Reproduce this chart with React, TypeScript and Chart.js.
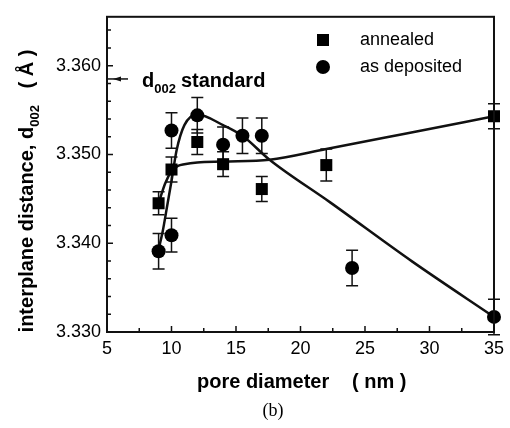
import React, { useEffect, useRef } from "react";
import { Chart, registerables } from "chart.js";

Chart.register(...registerables);

// Measured interplane spacing vs. pore diameter
const annealedX = [9, 10, 12, 14, 17, 22, 35];
const annealedY = [3.3445, 3.3483, 3.3514, 3.3489, 3.3461, 3.3488, 3.3543];
const annealedErr = [0.0013, 0.0014, 0.0014, 0.0014, 0.0014, 0.0018, 0.0014];

const depositedX = [9, 10, 10, 12, 14, 15.5, 17, 24, 35];
const depositedY = [3.3391, 3.3409, 3.3527, 3.3544, 3.3511, 3.3521, 3.3521, 3.3372, 3.3317];
const depositedErr = [0.002, 0.0019, 0.002, 0.002, 0.002, 0.002, 0.002, 0.002, 0.002];

// Guide-to-the-eye curves through each series
const annealedFitX = [9, 9.5, 10, 10.5, 11, 12, 14, 17.6, 22, 28, 35];
const annealedFitY = [3.3445, 3.3467, 3.3481, 3.3487, 3.3489, 3.3491, 3.3492, 3.3494, 3.3506, 3.3523, 3.3543];
const depositedFitX = [9, 9.3, 9.7, 10, 10.4, 11, 12, 14, 15.5, 17.6, 22.3, 28.7, 35];
const depositedFitY = [3.3393, 3.3412, 3.3445, 3.347, 3.3505, 3.3533, 3.3545, 3.3533, 3.3521, 3.3494, 3.3446, 3.3379, 3.3317];

const xTicks = [5, 10, 15, 20, 25, 30, 35];
const yTicks = [3.33, 3.34, 3.35, 3.36];
const standardD002 = 3.3585;

const SANS = "'Liberation Sans', Arial, sans-serif";

const toPoints = (xs: number[], ys: number[]) => xs.map((x, i) => ({ x, y: ys[i] }));

const errorBarPlugin = {
  id: "errorBars",
  beforeDatasetsDraw(chart: any) {
    const { ctx, scales } = chart;
    const xs = scales.x;
    const ys = scales.y;
    const sets = [
      { xs: annealedX, ys: annealedY, es: annealedErr },
      { xs: depositedX, ys: depositedY, es: depositedErr },
    ];
    ctx.save();
    ctx.strokeStyle = "#111";
    ctx.lineWidth = 1.5;
    sets.forEach((s) => {
      s.xs.forEach((xv, i) => {
        const px = xs.getPixelForValue(xv);
        const top = ys.getPixelForValue(s.ys[i] + s.es[i]);
        const bot = ys.getPixelForValue(s.ys[i] - s.es[i]);
        ctx.beginPath();
        ctx.moveTo(px, top);
        ctx.lineTo(px, bot);
        ctx.moveTo(px - 6, top);
        ctx.lineTo(px + 6, top);
        ctx.moveTo(px - 6, bot);
        ctx.lineTo(px + 6, bot);
        ctx.stroke();
      });
    });
    ctx.restore();
  },
};

const decorPlugin = {
  id: "decor",
  afterDraw(chart: any) {
    const { ctx, chartArea, scales } = chart;
    const { left, right, top, bottom } = chartArea;
    const xs = scales.x;
    const ys = scales.y;
    ctx.save();

    // frame
    ctx.strokeStyle = "#111";
    ctx.lineWidth = 2;
    ctx.strokeRect(left, top, right - left, bottom - top);

    // inward ticks
    ctx.lineWidth = 1.5;
    ctx.beginPath();
    for (let v = 5; v <= 35.001; v += 2.5) {
      const px = xs.getPixelForValue(v);
      const len = Math.abs(v % 5) < 0.01 ? 6 : 4;
      ctx.moveTo(px, bottom);
      ctx.lineTo(px, bottom - len);
    }
    for (let k = 0; k <= 17; k++) {
      const v = 3.33 + k * 0.002;
      const py = ys.getPixelForValue(v);
      if (py < top) break;
      const len = k % 5 === 0 ? 6 : 4;
      ctx.moveTo(left, py);
      ctx.lineTo(left + len, py);
    }
    ctx.stroke();

    // standard d002 marker
    const sy = ys.getPixelForValue(standardD002);
    ctx.lineWidth = 1.5;
    ctx.beginPath();
    ctx.moveTo(left + 1, sy);
    ctx.lineTo(left + 21, sy);
    ctx.stroke();
    ctx.fillStyle = "#111";
    ctx.beginPath();
    ctx.moveTo(left + 6, sy);
    ctx.lineTo(left + 14, sy - 2.5);
    ctx.lineTo(left + 14, sy + 2.5);
    ctx.closePath();
    ctx.fill();

    ctx.fillStyle = "#000";
    ctx.textBaseline = "alphabetic";
    ctx.textAlign = "left";
    ctx.font = `bold 20px ${SANS}`;
    let tx = 142;
    const base = sy + 8;
    ctx.fillText("d", tx, base);
    tx += ctx.measureText("d").width;
    ctx.font = `bold 13px ${SANS}`;
    ctx.fillText("002", tx, base + 6);
    tx += ctx.measureText("002").width + 5;
    ctx.font = `bold 20px ${SANS}`;
    ctx.fillText("standard", tx, base);

    // legend
    ctx.fillStyle = "#000";
    ctx.fillRect(323 - 6, 40 - 6, 12, 12);
    ctx.beginPath();
    ctx.arc(323, 67, 7, 0, Math.PI * 2);
    ctx.fill();
    ctx.font = `18px ${SANS}`;
    ctx.textBaseline = "middle";
    ctx.fillText("annealed", 360, 40);
    ctx.fillText("as deposited", 360, 67);

    // x-axis title
    ctx.font = `bold 20px ${SANS}`;
    ctx.textBaseline = "middle";
    ctx.fillText("pore diameter", 197, 382);
    ctx.fillText("( nm )", 352, 382);

    // y-axis title with subscript, rotated
    ctx.save();
    ctx.translate(26, 191);
    ctx.rotate(-Math.PI / 2);
    const p1 = "interplane distance, d";
    const p2 = "002";
    const p3 = "   ( Å )";
    ctx.font = `bold 20px ${SANS}`;
    const w1 = ctx.measureText(p1).width;
    const w3 = ctx.measureText(p3).width;
    ctx.font = `bold 13px ${SANS}`;
    const w2 = ctx.measureText(p2).width;
    let ox = -(w1 + w2 + w3) / 2;
    ctx.textBaseline = "alphabetic";
    ctx.font = `bold 20px ${SANS}`;
    ctx.fillText(p1, ox, 7);
    ox += w1;
    ctx.font = `bold 13px ${SANS}`;
    ctx.fillText(p2, ox, 13);
    ox += w2;
    ctx.font = `bold 20px ${SANS}`;
    ctx.fillText(p3, ox, 7);
    ctx.restore();

    // panel label
    ctx.font = "18px 'Liberation Serif', 'Times New Roman', serif";
    ctx.textAlign = "center";
    ctx.textBaseline = "middle";
    ctx.fillText("(b)", 273, 411);

    ctx.restore();
  },
};

export default function App() {
  const canvasRef = useRef<HTMLCanvasElement | null>(null);

  useEffect(() => {
    if (!canvasRef.current) return;
    const chart = new Chart(canvasRef.current, {
      type: "scatter",
      data: {
        datasets: [
          {
            label: "annealed",
            data: toPoints(annealedX, annealedY),
            pointStyle: "rect",
            pointRadius: 8.5,
            backgroundColor: "#000",
            borderColor: "#000",
            borderWidth: 0,
            clip: false as any,
            order: 0,
          },
          {
            label: "as deposited",
            data: toPoints(depositedX, depositedY),
            pointStyle: "circle",
            pointRadius: 7,
            backgroundColor: "#000",
            borderColor: "#000",
            borderWidth: 0,
            clip: false as any,
            order: 0,
          },
          {
            type: "line" as any,
            label: "annealed fit",
            data: toPoints(annealedFitX, annealedFitY),
            showLine: true,
            pointRadius: 0,
            borderColor: "#111",
            borderWidth: 2.5,
            cubicInterpolationMode: "monotone",
            fill: false,
            order: 1,
          },
          {
            type: "line" as any,
            label: "as deposited fit",
            data: toPoints(depositedFitX, depositedFitY),
            showLine: true,
            pointRadius: 0,
            borderColor: "#111",
            borderWidth: 2.5,
            cubicInterpolationMode: "monotone",
            fill: false,
            order: 1,
          },
        ] as any,
      },
      options: {
        animation: false,
        responsive: false,
        maintainAspectRatio: false,
        layout: { padding: { left: 0, top: 13, right: 10, bottom: 0 } },
        plugins: {
          legend: { display: false },
          tooltip: { enabled: false },
        },
        scales: {
          x: {
            type: "linear",
            min: 5,
            max: 35,
            grid: { display: false, drawTicks: false },
            border: { display: false },
            afterBuildTicks: (scale: any) => {
              scale.ticks = xTicks.map((v) => ({ value: v }));
            },
            afterFit: (scale: any) => {
              scale.height = 96;
            },
            ticks: {
              padding: 6,
              color: "#000",
              font: { family: SANS, size: 18 },
              callback: (v: any) => String(v),
            },
          },
          y: {
            type: "linear",
            min: 3.33,
            max: 3.3655,
            grid: { display: false, drawTicks: false },
            border: { display: false },
            afterBuildTicks: (scale: any) => {
              scale.ticks = yTicks.map((v) => ({ value: v }));
            },
            afterFit: (scale: any) => {
              scale.width = 107;
            },
            ticks: {
              padding: 6,
              color: "#000",
              font: { family: SANS, size: 18 },
              callback: (v: any) => Number(v).toFixed(3),
            },
          },
        },
      },
      plugins: [errorBarPlugin, decorPlugin],
    });
    return () => chart.destroy();
  }, []);

  return (
    <div style={{ position: "fixed", left: 0, top: 0, width: 510, height: 428, background: "#fff" }}>
      <canvas ref={canvasRef} width={510} height={428} style={{ width: 510, height: 428 }} />
    </div>
  );
}
